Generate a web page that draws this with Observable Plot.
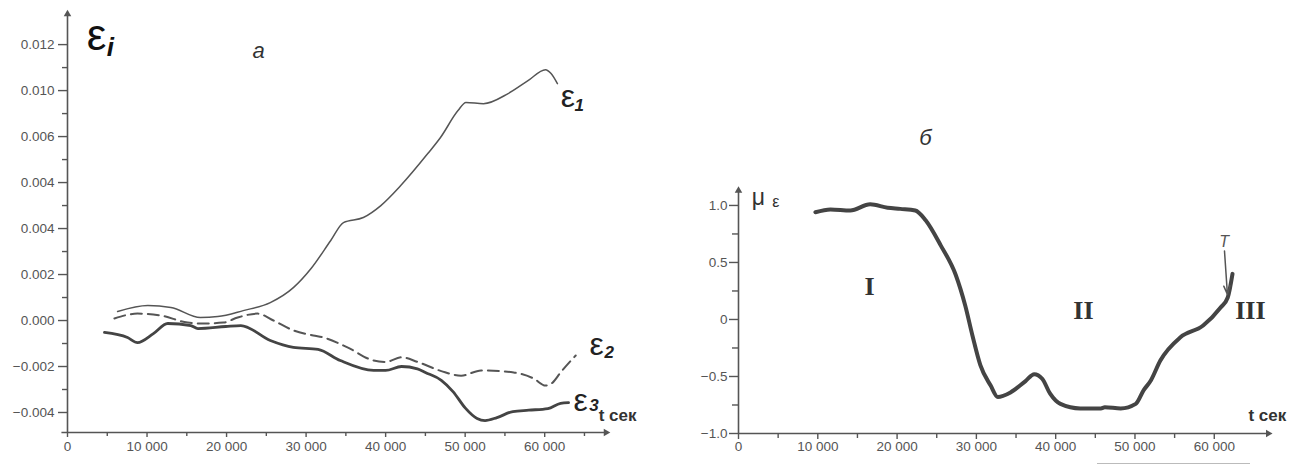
<!DOCTYPE html>
<html><head><meta charset="utf-8">
<script src="https://cdn.jsdelivr.net/npm/d3@7"></script>
<script src="https://cdn.jsdelivr.net/npm/@observablehq/plot@0.6"></script>
<style>
html,body{margin:0;padding:0;background:#fff;}
#wrap{position:relative;width:1306px;height:466px;overflow:hidden;background:#fff;font-family:"Liberation Sans",Arial,sans-serif;}
#left{position:absolute;left:0;top:0;}
#right{position:absolute;left:660px;top:0;}
#under{position:absolute;left:1097px;top:463px;width:153px;height:1px;background:#bbb;}
</style></head><body><div id="wrap"><div id="left"></div><div id="right"></div><div id="under"></div></div>
<script>
// ---- Panel а: strain components vs time ----
const t1 = [6300, 10100, 13000, 16700, 18900, 22100, 25500, 28400, 30600, 33100, 34700, 37200, 39400, 41900, 45300, 46900, 49100, 50100, 52300, 55400, 57900, 60100, 60800, 61600];
const eps1 = [0.00039, 0.00065, 0.00057, 0.00013, 0.00017, 0.00043, 0.00078, 0.00143, 0.00225, 0.00348, 0.00426, 0.00448, 0.0050, 0.00587, 0.00726, 0.00796, 0.00913, 0.00948, 0.00943, 0.00987, 0.01043, 0.01091, 0.01074, 0.0103];

const t2 = [5900, 8800, 11700, 15100, 17100, 19600, 21400, 23900, 25900, 28400, 30900, 32200, 35200, 38500, 40000, 42000, 44000, 47000, 49500, 52000, 56100, 58600, 60100, 61000, 62000, 63900];
const eps2 = [0.00009, 0.0003, 0.00022, -0.00009, -0.00013, -0.00009, 0.00013, 0.0003, 0, -0.00043, -0.00065, -0.00074, -0.00117, -0.00174, -0.0018, -0.0016, -0.0018, -0.0022, -0.0024, -0.00217, -0.00226, -0.00252, -0.00283, -0.0027, -0.00226, -0.00152];

const t3 = [4650, 7550, 8800, 10800, 12600, 15500, 16400, 19900, 21800, 25500, 28400, 31500, 34300, 38500, 40000, 42000, 44000, 45000, 47000, 48500, 50000, 51500, 52500, 54000, 56000, 58000, 60400, 62000, 63000];
const eps3 = [-0.00052, -0.00074, -0.00096, -0.00057, -0.00013, -0.00022, -0.00035, -0.00026, -0.00022, -0.00087, -0.00117, -0.00126, -0.00174, -0.00217, -0.00217, -0.0020, -0.0021, -0.00226, -0.0026, -0.0031, -0.0038, -0.00426, -0.00435, -0.00422, -0.00396, -0.0039, -0.00383, -0.0036, -0.00357];

const leftYTicks = [0.012, 0.010, 0.008, 0.006, 0.004, 0.002, 0, -0.002, -0.004];
const leftYLabels = ["0.012", "0.010", "0.006", "0.004", "0.004", "0.002", "0.000", "\u22120.002", "\u22120.004"];
const leftYMinor = [0.011, 0.009, 0.007, 0.005, 0.003, 0.001, -0.001, -0.003];
const xTicks = [0, 10000, 20000, 30000, 40000, 50000, 60000];
const xLabels = ["0", "10 000", "20 000", "30 000", "40 000", "50 000", "60 000"];
const leftXMinor = [5000, 15000, 25000, 35000, 45000, 55000, 65000];

// ---- Panel б: Lode parameter μ_ε vs time ----
const tMu = [9700, 11600, 14100, 16600, 18800, 20400, 22300, 23600, 25500, 27400, 28600, 29500, 30500, 31800, 32700, 34300, 36200, 37300, 38300, 39300, 40600, 43100, 45700, 46200, 48200, 50100, 51100, 52000, 53200, 55700, 58600, 60800, 61700, 62300];
const mu = [0.94, 0.965, 0.956, 1.01, 0.98, 0.97, 0.956, 0.87, 0.65, 0.39, 0.12, -0.14, -0.40, -0.58, -0.68, -0.64, -0.54, -0.48, -0.52, -0.65, -0.74, -0.78, -0.78, -0.77, -0.78, -0.74, -0.62, -0.535, -0.36, -0.158, -0.053, 0.105, 0.193, 0.40];

const rightYTicks = [1, 0.5, 0, -0.5, -1];
const rightYLabels = ["1.0", "0.5", "0", "\u22120.5", "\u22121.0"];
const rightYMinor = [0.75, 0.25, -0.25, -0.75];
const rightXMinor = [5000, 15000, 25000, 35000, 45000, 55000];

const zip = (ts, vs) => ts.map((t, i) => ({t, v: vs[i]}));
const fmt = (ticks, labels) => d => { const i = ticks.findIndex(v => Math.abs(v - d) < 1e-9); return i < 0 ? "" : labels[i]; };
const blank = () => "";
const AX = "#555";
const FONT = "Liberation Sans, Arial, sans-serif";
const SERIF = "Liberation Serif, Times New Roman, serif";

const left = Plot.plot({
  width: 660, height: 466,
  marginLeft: 67, marginRight: 49, marginTop: 8, marginBottom: 34,
  style: {fontFamily: FONT, color: AX, background: "transparent", overflow: "visible"},
  x: {domain: [0, 68400]},
  y: {domain: [-0.00487, 0.01357]},
  marks: [
    Plot.ruleX([0], {y1: -0.00487, y2: 0.0133, stroke: AX, strokeWidth: 1.6}),
    Plot.dot([0], {x: 0, y: 0.01333, symbol: "triangle2", r: 3.6, fill: AX}),
    Plot.ruleY([-0.00487], {x1: -700, x2: 67600, stroke: AX, strokeWidth: 1.6}),
    Plot.dot([0], {x: 67700, y: -0.00487, symbol: "triangle2", r: 3.6, fill: AX, rotate: 90}),
    Plot.axisY({ticks: leftYTicks, tickFormat: fmt(leftYTicks, leftYLabels), tickSize: 9, tickPadding: 4, fontSize: 13.5, label: null, strokeWidth: 1.4}),
    Plot.axisY({ticks: leftYMinor, tickFormat: blank, tickSize: 5, label: null, strokeWidth: 1.4}),
    Plot.axisX({ticks: xTicks, tickFormat: fmt(xTicks, xLabels), tickSize: 5, tickPadding: 4, fontSize: 13.5, label: null, strokeWidth: 1.4}),
    Plot.axisX({ticks: leftXMinor, tickFormat: blank, tickSize: 4, label: null, strokeWidth: 1.4}),
    Plot.line(zip(t1, eps1), {x: "t", y: "v", stroke: "#555", strokeWidth: 1.5, curve: "monotone-x"}),
    Plot.line(zip(t2, eps2), {x: "t", y: "v", stroke: "#555", strokeWidth: 2, strokeDasharray: "11,6", curve: "monotone-x"}),
    Plot.line(zip(t3, eps3), {x: "t", y: "v", stroke: "#444", strokeWidth: 2.8, curve: "monotone-x"}),
    // labels
    Plot.text(["\u03b5"], {x: 3650, y: 0.01239, fontSize: 44, fill: "#111", textAnchor: "middle"}),
    Plot.text(["i"], {x: 5400, y: 0.01185, fontSize: 26, fontWeight: "bold", fontStyle: "italic", fill: "#111", textAnchor: "middle"}),
    Plot.text(["\u0430"], {x: 24030, y: 0.01174, fontSize: 22, fontStyle: "italic", fill: "#333", textAnchor: "middle"}),
    Plot.text(["\u03b5"], {x: 62900, y: 0.00974, fontSize: 32, fill: "#222", textAnchor: "middle"}),
    Plot.text(["1"], {x: 64350, y: 0.00935, fontSize: 17, fontStyle: "italic", fontWeight: "bold", fill: "#222", textAnchor: "middle"}),
    Plot.text(["\u03b5"], {x: 66540, y: -0.00104, fontSize: 32, fill: "#222", textAnchor: "middle"}),
    Plot.text(["2"], {x: 68100, y: -0.00138, fontSize: 17, fontStyle: "italic", fontWeight: "bold", fill: "#222", textAnchor: "middle"}),
    Plot.text(["\u03b5"], {x: 64530, y: -0.00348, fontSize: 32, fill: "#222", textAnchor: "middle"}),
    Plot.text(["3"], {x: 66200, y: -0.00368, fontSize: 17, fontStyle: "italic", fontWeight: "bold", fill: "#222", textAnchor: "middle"}),
    Plot.text(["t \u0441\u0435\u043a"], {x: 66790, y: -0.00413, fontSize: 17, fontWeight: "bold", fill: "#333", textAnchor: "start"})
  ]
});
document.getElementById("left").appendChild(left);

const right = Plot.plot({
  width: 646, height: 466,
  marginLeft: 78, marginRight: 33, marginTop: 185, marginBottom: 33,
  style: {fontFamily: FONT, color: AX, background: "transparent", overflow: "visible"},
  x: {domain: [0, 67470]},
  y: {domain: [-1, 1.175]},
  marks: [
    Plot.ruleX([0], {y1: -1, y2: 1.13, stroke: AX, strokeWidth: 1.6}),
    Plot.dot([0], {x: 0, y: 1.13, symbol: "triangle2", r: 3.6, fill: AX}),
    Plot.ruleY([-1], {x1: 0, x2: 66700, stroke: AX, strokeWidth: 1.6}),
    Plot.dot([0], {x: 66800, y: -1, symbol: "triangle2", r: 3.6, fill: AX, rotate: 90}),
    Plot.axisY({ticks: rightYTicks, tickFormat: fmt(rightYTicks, rightYLabels), tickSize: 9, tickPadding: 2, fontSize: 13.5, label: null, strokeWidth: 1.4}),
    Plot.axisY({ticks: rightYMinor, tickFormat: blank, tickSize: 6, label: null, strokeWidth: 1.4}),
    Plot.axisX({ticks: xTicks, tickFormat: fmt(xTicks, xLabels), tickSize: 6, tickPadding: 2, fontSize: 13.5, label: null, strokeWidth: 1.4}),
    Plot.axisX({ticks: rightXMinor, tickFormat: blank, tickSize: 5, label: null, strokeWidth: 1.4}),
    Plot.line(zip(tMu, mu), {x: "t", y: "v", stroke: "#444", strokeWidth: 4, curve: "monotone-x", strokeLinejoin: "round", strokeLinecap: "round"}),
    Plot.arrow([0], {x1: 61290, y1: 0.6, x2: 61660, y2: 0.22, stroke: "#555", strokeWidth: 1.5, headLength: 9, headAngle: 40}),
    Plot.text(["T"], {x: 61250, y: 0.68, fontSize: 16, fontStyle: "italic", fill: "#555", textAnchor: "middle"}),
    Plot.text(["\u03bc"], {x: 2520, y: 1.07, fontSize: 23, fill: "#333", textAnchor: "middle"}),
    Plot.text(["\u03b5"], {x: 4700, y: 1.035, fontSize: 16, fill: "#333", textAnchor: "middle"}),
    Plot.text(["\u0431"], {x: 23580, y: 1.59, fontSize: 22, fontStyle: "italic", fill: "#333", textAnchor: "middle"}),
    Plot.text(["I"], {x: 16520, y: 0.29, fontSize: 26, fontWeight: "bold", fontFamily: SERIF, fill: "#333", textAnchor: "middle"}),
    Plot.text(["II"], {x: 43500, y: 0.08, fontSize: 26, fontWeight: "bold", fontFamily: SERIF, fill: "#333", textAnchor: "middle"}),
    Plot.text(["III"], {x: 64560, y: 0.08, fontSize: 26, fontWeight: "bold", fontFamily: SERIF, fill: "#333", textAnchor: "middle"}),
    Plot.text(["t \u0441\u0435\u043a"], {x: 64310, y: -0.84, fontSize: 17, fontWeight: "bold", fill: "#333", textAnchor: "start"})
  ]
});
document.getElementById("right").appendChild(right);
</script></body></html>
